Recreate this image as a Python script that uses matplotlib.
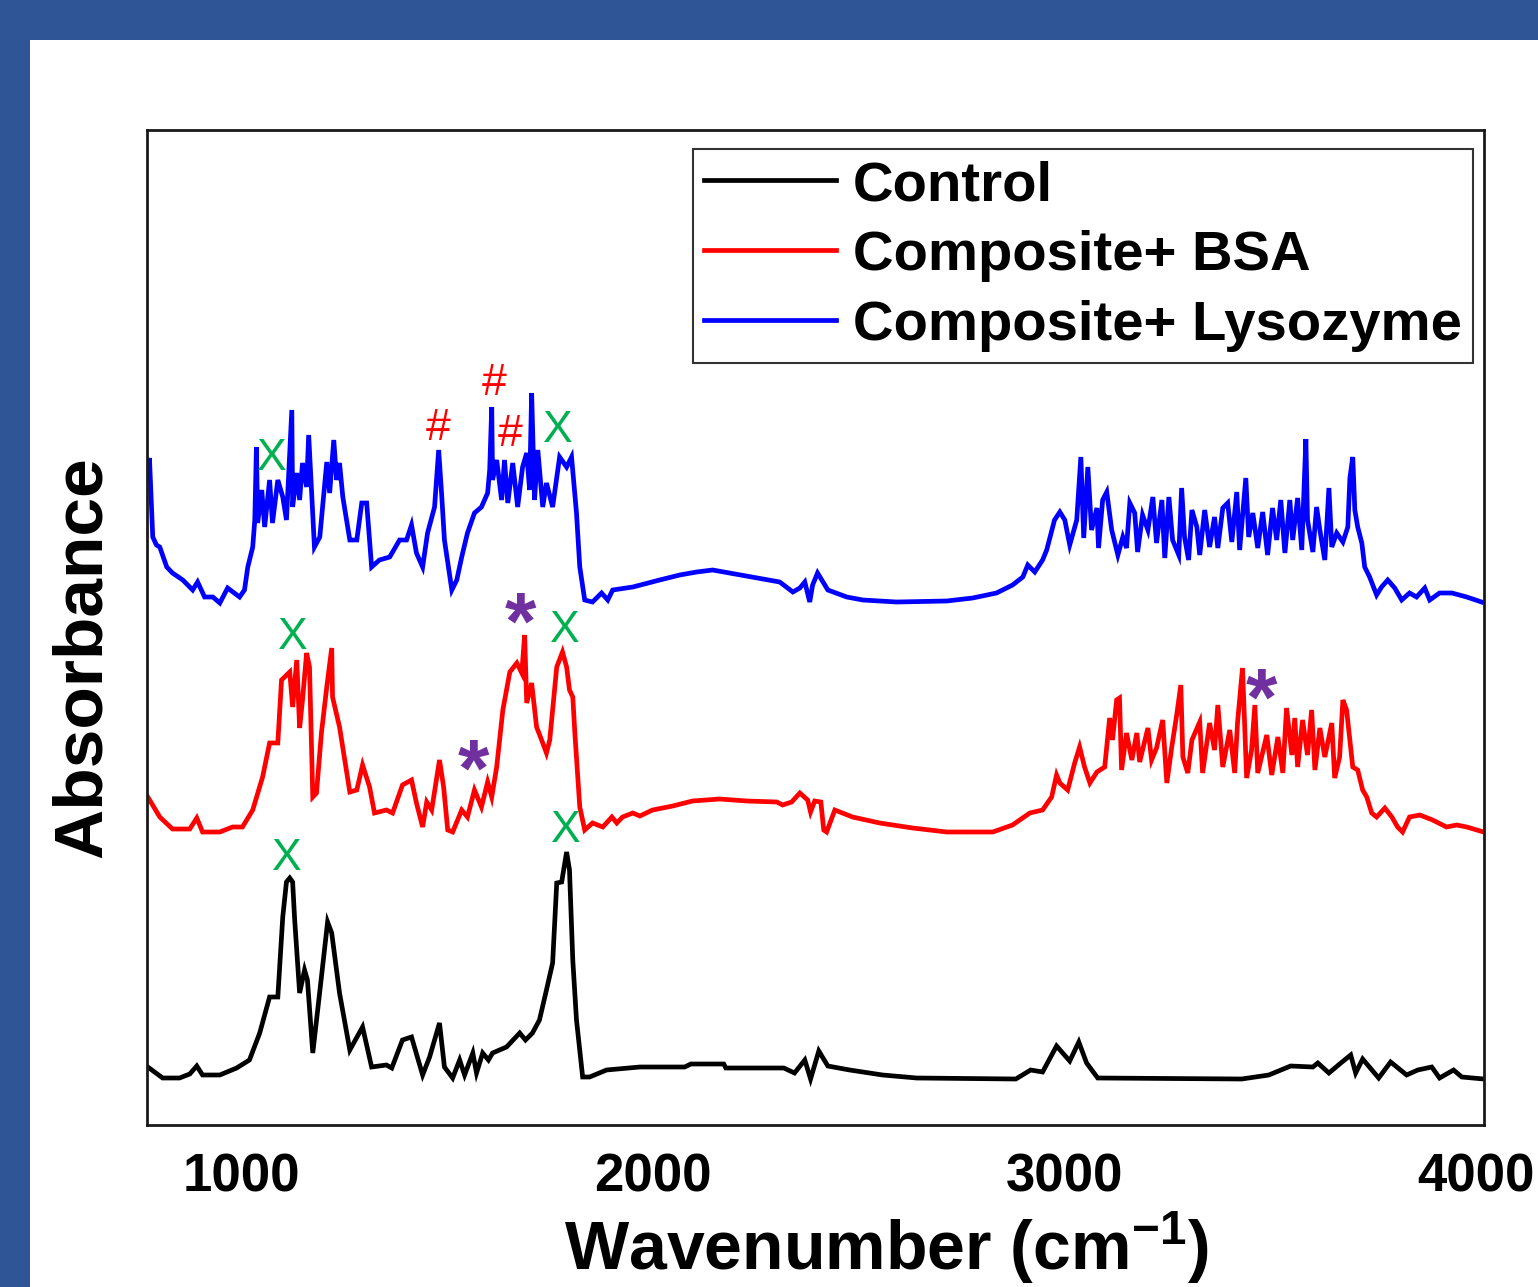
import matplotlib.pyplot as plt
from matplotlib.patches import Rectangle

plt.rcParams['font.family'] = ['Liberation Sans', 'DejaVu Sans']
plt.rcParams['mathtext.fontset'] = 'custom'
plt.rcParams['mathtext.bf'] = 'Liberation Sans:bold'
plt.rcParams['mathtext.rm'] = 'Liberation Sans'

# FTIR spectra (wavenumber in cm-1, stacked absorbance in a.u.)
control_wn = [772, 808, 849, 874, 891, 905, 947, 988, 1019, 1044, 1068, 1088, 1100, 1109, 1117,
              1124, 1129, 1141, 1153, 1160, 1173, 1194, 1209, 1219, 1238, 1263, 1294, 1316, 1352,
              1365, 1391, 1413, 1440, 1457, 1481, 1493, 1513, 1530, 1542, 1562, 1571, 1586, 1600,
              1610, 1644, 1676, 1690, 1707, 1724, 1741, 1756, 1766, 1778, 1790, 1797, 1805, 1814,
              1829, 1846, 1887, 1968, 2077, 2092, 2172, 2177, 2318, 2344, 2369, 2383, 2403, 2425,
              2478, 2558, 2641, 2882, 2918, 2947, 2981, 3013, 3035, 3054, 3081, 3431, 3497, 3550,
              3604, 3616, 3643, 3672, 3696, 3708, 3725, 3764, 3793, 3832, 3859, 3893, 3912, 3946,
              3966, 4019]
control_abs = [0.058, 0.047, 0.047, 0.051, 0.059, 0.050, 0.050, 0.057, 0.065, 0.092, 0.128, 0.128,
               0.208, 0.243, 0.247, 0.243, 0.205, 0.132, 0.155, 0.145, 0.072, 0.148, 0.203, 0.192,
               0.132, 0.075, 0.098, 0.058, 0.060, 0.057, 0.085, 0.088, 0.050, 0.068, 0.102, 0.058,
               0.047, 0.065, 0.050, 0.072, 0.052, 0.072, 0.065, 0.072, 0.078, 0.092, 0.085, 0.092,
               0.105, 0.135, 0.162, 0.242, 0.243, 0.273, 0.255, 0.165, 0.105, 0.048, 0.048, 0.055,
               0.058, 0.058, 0.061, 0.061, 0.057, 0.057, 0.052, 0.065, 0.046, 0.074, 0.059, 0.055,
               0.050, 0.047, 0.046, 0.055, 0.053, 0.079, 0.064, 0.083, 0.062, 0.047, 0.046, 0.050,
               0.059, 0.058, 0.062, 0.052, 0.062, 0.070, 0.052, 0.066, 0.047, 0.063, 0.050, 0.055,
               0.058, 0.047, 0.055, 0.048, 0.046]

bsa_wn = [772, 801, 832, 874, 891, 905, 947, 978, 1002, 1027, 1051, 1068, 1088, 1097, 1117, 1124,
          1134, 1141, 1148, 1158, 1165, 1173, 1182, 1194, 1207, 1219, 1221, 1238, 1263, 1280, 1294,
          1311, 1323, 1352, 1367, 1391, 1413, 1425, 1440, 1450, 1462, 1481, 1491, 1501, 1513, 1535,
          1549, 1566, 1583, 1598, 1608, 1620, 1635, 1652, 1669, 1681, 1688, 1693, 1705, 1717, 1732,
          1741, 1749, 1766, 1780, 1790, 1797, 1805, 1810, 1822, 1834, 1853, 1878, 1900, 1912, 1926,
          1951, 1968, 1999, 2048, 2096, 2162, 2228, 2301, 2315, 2337, 2357, 2376, 2383, 2393, 2408,
          2415, 2422, 2442, 2485, 2551, 2631, 2714, 2826, 2874, 2916, 2947, 2969, 2981, 2989, 3008,
          3025, 3037, 3049, 3062, 3079, 3098, 3110, 3117, 3127, 3134, 3139, 3151, 3164, 3176, 3183,
          3203, 3212, 3224, 3239, 3249, 3261, 3273, 3283, 3288, 3300, 3310, 3329, 3336, 3353, 3365,
          3373, 3385, 3402, 3414, 3421, 3433, 3443, 3455, 3463, 3470, 3492, 3504, 3519, 3531, 3540,
          3553, 3560, 3567, 3579, 3591, 3601, 3609, 3621, 3633, 3650, 3657, 3669, 3677, 3686, 3694,
          3701, 3713, 3725, 3735, 3747, 3759, 3779, 3796, 3810, 3822, 3839, 3864, 3895, 3929, 3954,
          3978, 4019]
bsa_abs = [0.328, 0.308, 0.296, 0.296, 0.307, 0.293, 0.293, 0.298, 0.298, 0.315, 0.348, 0.382, 0.382,
           0.445, 0.453, 0.418, 0.465, 0.397, 0.425, 0.472, 0.458, 0.328, 0.332, 0.392, 0.438, 0.477,
           0.428, 0.398, 0.333, 0.335, 0.360, 0.338, 0.312, 0.315, 0.312, 0.340, 0.345, 0.322, 0.298,
           0.323, 0.315, 0.365, 0.338, 0.295, 0.293, 0.315, 0.308, 0.335, 0.318, 0.343, 0.328, 0.358,
           0.415, 0.453, 0.462, 0.452, 0.490, 0.422, 0.442, 0.398, 0.382, 0.372, 0.385, 0.458, 0.473,
           0.458, 0.435, 0.428, 0.392, 0.318, 0.295, 0.302, 0.298, 0.308, 0.302, 0.308, 0.312, 0.309,
           0.315, 0.319, 0.324, 0.326, 0.324, 0.323, 0.320, 0.323, 0.332, 0.325, 0.313, 0.324, 0.323,
           0.295, 0.293, 0.315, 0.308, 0.302, 0.297, 0.293, 0.293, 0.300, 0.312, 0.315, 0.328, 0.350,
           0.342, 0.335, 0.362, 0.378, 0.358, 0.342, 0.353, 0.358, 0.407, 0.385, 0.425, 0.427, 0.355,
           0.392, 0.365, 0.392, 0.363, 0.397, 0.365, 0.377, 0.405, 0.342, 0.378, 0.410, 0.440, 0.368,
           0.352, 0.385, 0.403, 0.352, 0.402, 0.375, 0.420, 0.358, 0.395, 0.352, 0.403, 0.457, 0.347,
           0.375, 0.420, 0.352, 0.390, 0.350, 0.388, 0.352, 0.417, 0.370, 0.407, 0.358, 0.405, 0.370,
           0.415, 0.355, 0.397, 0.368, 0.402, 0.347, 0.368, 0.425, 0.415, 0.385, 0.358, 0.355, 0.335,
           0.328, 0.312, 0.308, 0.317, 0.308, 0.298, 0.293, 0.308, 0.310, 0.305, 0.298, 0.300, 0.298,
           0.293]

lyso_wn = [772, 776, 784, 793, 801, 818, 832, 857, 881, 893, 910, 930, 947, 966, 995, 1007, 1015,
           1027, 1032, 1036, 1039, 1049, 1056, 1068, 1075, 1088, 1100, 1109, 1122, 1124, 1134, 1141,
           1148, 1158, 1163, 1170, 1177, 1190, 1207, 1214, 1224, 1231, 1238, 1246, 1263, 1280, 1292,
           1304, 1316, 1335, 1360, 1384, 1401, 1413, 1425, 1440, 1452, 1469, 1479, 1486, 1493, 1511,
           1523, 1535, 1549, 1566, 1583, 1598, 1603, 1608, 1610, 1620, 1632, 1639, 1647, 1659, 1671,
           1683, 1693, 1700, 1705, 1712, 1720, 1732, 1741, 1756, 1773, 1790, 1802, 1814, 1822, 1834,
           1853, 1875, 1890, 1902, 1951, 2016, 2065, 2106, 2145, 2186, 2242, 2308, 2340, 2357, 2369,
           2381, 2388, 2400, 2425, 2471, 2510, 2592, 2714, 2777, 2835, 2874, 2899, 2911, 2928, 2947,
           2957, 2976, 2989, 3001, 3013, 3030, 3040, 3047, 3057, 3066, 3079, 3083, 3093, 3103, 3115,
           3130, 3142, 3151, 3159, 3171, 3178, 3190, 3203, 3215, 3224, 3237, 3244, 3254, 3263, 3278,
           3285, 3292, 3302, 3310, 3322, 3329, 3341, 3353, 3365, 3373, 3385, 3397, 3407, 3419, 3426,
           3441, 3448, 3458, 3470, 3482, 3494, 3506, 3516, 3526, 3536, 3548, 3555, 3567, 3577, 3587,
           3591, 3604, 3613, 3621, 3633, 3643, 3650, 3662, 3677, 3689, 3694, 3701, 3706, 3713, 3723,
           3730, 3742, 3759, 3771, 3786, 3803, 3820, 3839, 3856, 3876, 3888, 3912, 3942, 3978, 4014]
lyso_abs = [0.655, 0.667, 0.588, 0.580, 0.578, 0.558, 0.552, 0.545, 0.535, 0.543, 0.528, 0.528, 0.522,
            0.537, 0.528, 0.535, 0.558, 0.578, 0.605, 0.678, 0.602, 0.635, 0.598, 0.645, 0.602, 0.645,
            0.628, 0.605, 0.715, 0.618, 0.652, 0.625, 0.662, 0.638, 0.690, 0.635, 0.578, 0.588, 0.663,
            0.632, 0.685, 0.645, 0.662, 0.628, 0.585, 0.585, 0.622, 0.622, 0.558, 0.565, 0.568, 0.585,
            0.585, 0.600, 0.572, 0.558, 0.592, 0.618, 0.675, 0.632, 0.585, 0.535, 0.545, 0.568, 0.592,
            0.612, 0.618, 0.632, 0.655, 0.718, 0.645, 0.665, 0.625, 0.665, 0.622, 0.662, 0.618, 0.658,
            0.672, 0.635, 0.732, 0.625, 0.675, 0.618, 0.642, 0.618, 0.668, 0.658, 0.668, 0.612, 0.558,
            0.525, 0.523, 0.532, 0.525, 0.535, 0.538, 0.545, 0.550, 0.553, 0.555, 0.552, 0.548, 0.543,
            0.533, 0.537, 0.543, 0.523, 0.540, 0.552, 0.535, 0.528, 0.525, 0.523, 0.524, 0.527, 0.532,
            0.540, 0.548, 0.560, 0.553, 0.565, 0.575, 0.605, 0.613, 0.605, 0.580, 0.605, 0.668, 0.587,
            0.658, 0.595, 0.617, 0.577, 0.625, 0.633, 0.595, 0.570, 0.588, 0.577, 0.622, 0.612, 0.573,
            0.610, 0.595, 0.628, 0.582, 0.625, 0.567, 0.628, 0.585, 0.570, 0.637, 0.588, 0.565, 0.615,
            0.598, 0.570, 0.615, 0.578, 0.608, 0.577, 0.617, 0.622, 0.583, 0.633, 0.575, 0.647, 0.588,
            0.612, 0.577, 0.613, 0.570, 0.617, 0.585, 0.625, 0.572, 0.625, 0.585, 0.627, 0.575, 0.686,
            0.605, 0.573, 0.618, 0.595, 0.565, 0.637, 0.578, 0.592, 0.583, 0.598, 0.647, 0.668, 0.615,
            0.598, 0.582, 0.558, 0.548, 0.530, 0.538, 0.545, 0.537, 0.525, 0.532, 0.528, 0.537, 0.525,
            0.532, 0.532, 0.528, 0.523]

series_labels = ['Control', 'Composite+ BSA', 'Composite+ Lysozyme']
series_colors = ['black', '#FF0000', '#0000FF']

# peak markers: symbol, wavenumber, height, colour
marks = [('X', 1073, 0.667, '#00B050'), ('#', 1479, 0.697, '#FF0000'),
         ('#', 1613, 0.742, '#FF0000'), ('#', 1654, 0.691, '#FF0000'),
         ('X', 1768, 0.695, '#00B050'),
         ('X', 1124, 0.488, '#00B050'), ('X', 1785, 0.495, '#00B050'),
         ('X', 1109, 0.267, '#00B050'), ('X', 1788, 0.295, '#00B050')]
stars = [(1678, 0.497), (1564, 0.350), (3480, 0.421)]

fig = plt.figure(figsize=(15.38, 12.87), dpi=100)
fig.patch.set_facecolor('#2F5597')
fig.patches.append(Rectangle((30 / 1538, 0), 1 - 30 / 1538, 1 - 40 / 1287,
                             transform=fig.transFigure, facecolor='white',
                             edgecolor='none', zorder=-10))

ax = fig.add_axes([147 / 1538, 1 - 1125 / 1287, 1337 / 1538, 995 / 1287])
ax.set_zorder(5)

for wn, ab, lab, col in zip([control_wn, bsa_wn, lyso_wn], [control_abs, bsa_abs, lyso_abs],
                            series_labels, series_colors):
    ax.plot(wn, ab, color=col, linewidth=3.4, label=lab, solid_joinstyle='miter')

for sym, w, a, col in marks:
    ax.text(w, a, sym, color=col, fontsize=32, ha='center', va='center')
for w, a in stars:
    ax.text(w, a, '*', color='#7030A0', fontsize=58, fontweight='bold',
            ha='center', va='center')

ax.set_xlim(770, 4020)
ax.set_ylim(0, 0.995)
ax.set_xticks([1000, 2000, 3000, 4000])
ax.set_yticks([])
ax.tick_params(axis='x', length=0, pad=20, labelsize=38)
for t in ax.get_xticklabels():
    t.set_fontweight('bold')
for sp in ax.spines.values():
    sp.set_linewidth(2)
    sp.set_color('#1a1a1a')

ax.set_xlabel(r'Wavenumber (cm$^{\mathbf{-1}}$)', fontsize=49, fontweight='bold')
ax.xaxis.set_label_coords(0.553, -0.085)
ax.set_ylabel('Absorbance', fontsize=50, fontweight='bold')
ax.yaxis.set_label_coords(-0.024, 0.47)

leg = ax.legend(loc='upper right', bbox_to_anchor=(0.992, 0.981), borderaxespad=0,
                prop={'weight': 'bold', 'size': 40.5}, handlelength=2.35,
                handletextpad=0.3, labelspacing=0.32, borderpad=0.2, fancybox=False,
                framealpha=1, edgecolor='#333333')
leg.get_frame().set_linewidth(1.5)

plt.savefig('out.png', dpi=100)
